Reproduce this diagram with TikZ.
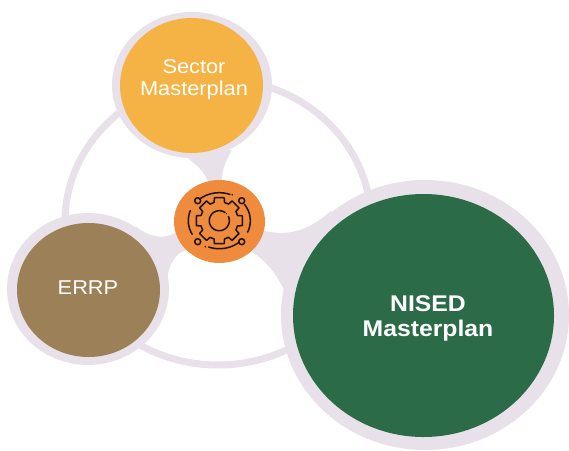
\documentclass[tikz,border=0pt]{standalone}
\usepackage{fontspec}
\setmainfont[FakeStretch=1.09]{Liberation Sans}
\usetikzlibrary{shapes.geometric}
\definecolor{halo}{HTML}{E9E1E9}
\definecolor{sun}{HTML}{F4B344}
\definecolor{earth}{HTML}{9C8158}
\definecolor{forest}{HTML}{2C6B47}
\definecolor{hubc}{HTML}{EE8B3C}
\definecolor{ink}{HTML}{1E1208}
\tikzset{
  blob/.style={ellipse,inner sep=0pt,outer sep=0pt,align=center},
  halob/.style={blob,fill=halo},
  spoke/.style={fill=halo,draw=none},
  label/.style={text=white,font=\fontsize{20}{22}\selectfont},
  icon/.style={draw=ink,line width=1.5pt,line cap=round,line join=round}
}
\begin{document}
\begin{tikzpicture}[x=1pt,y=-1pt]
\useasboundingbox (0,0) rectangle (569,450);
% ring
\node[blob,draw=halo,line width=7pt,minimum width=306pt,minimum height=286pt] (ring) at (218,222) {};
% spokes
\coordinate (h1) at (176,148); \coordinate (h2) at (209,186);
\coordinate (h3) at (222,186); \coordinate (h4) at (232,150);
\fill[spoke] (h1) .. controls (195,165) and (206,170) .. (h2) -- (h3) .. controls (221,172) and (224,164) .. (h4) -- cycle;
\coordinate (l1) at (135,226); \coordinate (l2) at (182,228);
\coordinate (l3) at (186,250); \coordinate (l4) at (166,285);
\fill[spoke] (l1) .. controls (148,236) and (165,243) .. (l2) -- (l3) .. controls (174,254) and (168,266) .. (l4) -- cycle;
\coordinate (r1) at (260,230); \coordinate (r2) at (332,210);
\coordinate (r3) at (290,305); \coordinate (r4) at (252,252);
\fill[spoke] (r1) .. controls (285,236) and (305,234) .. (r2) -- (r3) .. controls (282,280) and (268,262) .. (r4) -- cycle;
% halos
\node[halob,minimum width=160pt,minimum height=146pt] (sectorhalo) at (192,85) {};
\node[halob,minimum width=162pt,minimum height=152pt] (errphalo) at (88,289) {};
\node[halob,minimum width=288pt,minimum height=270pt] (nisedhalo) at (425,315) {};
% circles
\node[blob,fill=sun,minimum width=143pt,minimum height=135pt] (sector) at (191.5,85.5) {};
\node[blob,fill=earth,minimum width=143pt,minimum height=134pt] (errp) at (88.5,290) {};
\node[blob,fill=forest,minimum width=261pt,minimum height=243pt] (nised) at (423.5,315.5) {};
\node[blob,fill=hubc,minimum width=91pt,minimum height=83pt] (hub) at (219.5,221.5) {};
% labels
\node[label,align=center] (sectortext) at (194,80) {Sector\\Masterplan};
\node[label,align=center] (errptext) at (88,288) {ERRP};
\node[label,align=center,font=\fontsize{22.7}{25}\selectfont\bfseries] (nisedtext) at (428,318) {NISED\\Masterplan};
% gear icon
\begin{scope}[xshift=219.3pt,yshift=-220.7pt,x=1pt,y=1pt]
  \draw[icon] plot[domain=55:385,samples=50] ({10*cos(\x)},{10*sin(\x)});
  \draw[icon] \foreach \a in {0,45,...,315}{
     (\a-12:23.5pt) -- (\a+12:23.5pt) -- (\a+16:19pt) -- (\a+29:19pt) -- (\a+33:23.5pt)
  };
  \draw[icon] plot[domain=130:70,samples=20] ({31*cos(\x)},{28*sin(\x)});
  \draw[icon] plot[domain=36:-24,samples=20] ({31*cos(\x)},{28*sin(\x)});
  \draw[icon] plot[domain=-50:-110,samples=20] ({31*cos(\x)},{28*sin(\x)});
  \draw[icon] plot[domain=159:209,samples=20] ({31*cos(\x)},{28*sin(\x)});
  \draw[icon] (-21.6,20) circle[radius=3pt];
  \draw[icon] (22.4,20) circle[radius=3pt];
  \draw[icon] (-21.6,-21) circle[radius=3pt];
  \draw[icon] (22.4,-21) circle[radius=3pt];
  \fill[ink] (13,26) circle[radius=.9pt];
  \fill[ink] (-14,-26) circle[radius=.9pt];
  \fill[ink] (7,7) circle[radius=.7pt];
\end{scope}
\end{tikzpicture}
\end{document}
